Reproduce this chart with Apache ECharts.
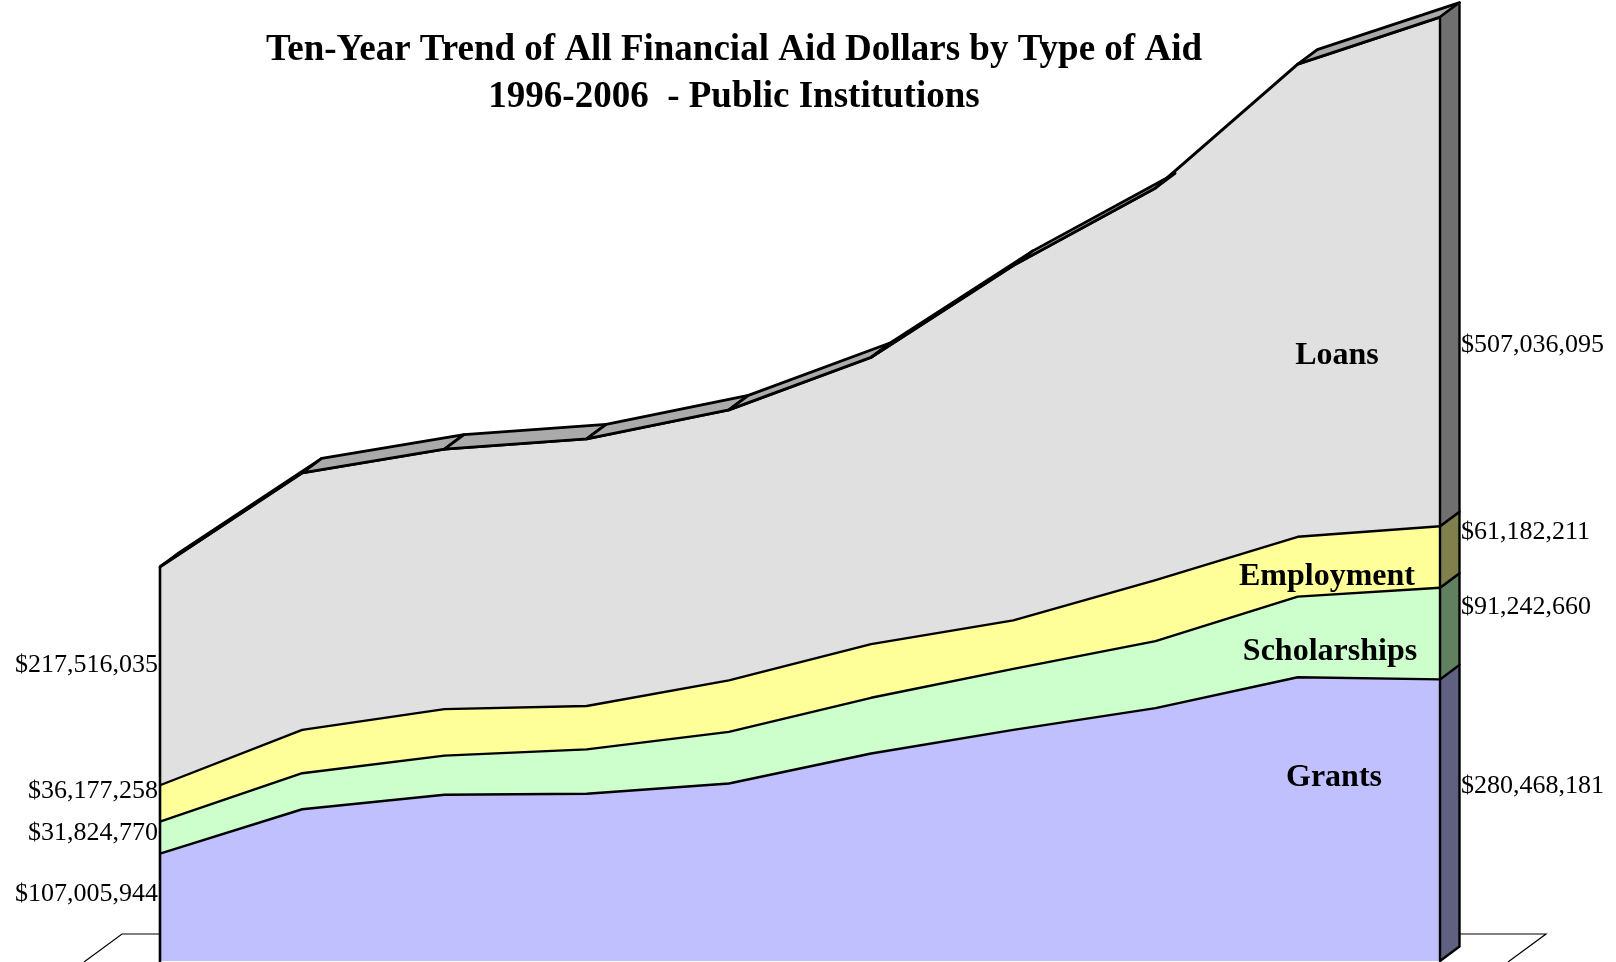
<!DOCTYPE html>
<html>
<head>
<meta charset="utf-8">
<script src="https://cdn.jsdelivr.net/npm/echarts@6/dist/echarts.min.js"></script>
<style>
html,body{margin:0;padding:0;background:#fff;}
#chart{width:1616px;height:962px;}
</style>
</head>
<body>
<div id="chart"></div>
<script>
// ---- data ----
const years = ['1996-97','1997-98','1998-99','1999-00','2000-01','2001-02','2002-03','2003-04','2004-05','2005-06'];
const grants       = [107005944, 151100000, 165500000, 166500000, 176800000, 206600000, 230200000, 251800000, 282600000, 280468181];
const scholarships = [31824770, 35900000, 39000000, 44200000, 51400000, 55500000, 60700000, 66800000, 80200000, 91242660];
const employment   = [36177258, 43200000, 46300000, 43200000, 51300000, 53400000, 48300000, 60600000, 59600000, 61182211];
const loans        = [217516035, 255900000, 259000000, 266100000, 269300000, 285700000, 353500000, 390600000, 470700000, 507036095];
const seriesNames  = ['Grants','Scholarships','Employment','Loans'];
const titleLines   = ['Ten-Year Trend of All Financial Aid Dollars by Type of Aid', '1996-2006  - Public Institutions'];

// ---- derived ----
const all = [grants, scholarships, employment, loans];
const cum = all.map((s, k) => s.map((v, i) => all.slice(0, k + 1).reduce((a, arr) => a + arr[i], 0)));
const totals = cum[3];
const last = years.length - 1;
const fmt = v => '$' + v.toLocaleString('en-US');

const fills = ['#C0C0FF', '#CCFFCC', '#FFFF99', '#E0E0E0'];
const sideFills = ['#606080', '#608060', '#80804C', '#707070'];
const D = [19.5, -14.5];

const chart = echarts.init(document.getElementById('chart'), null, {renderer: 'canvas'});

// filled areas (stacked)
const areaSeries = all.map((arr, k) => ({
  name: seriesNames[k], type: 'line', stack: 'area', data: arr,
  symbol: 'none', clip: false, z: 2,
  lineStyle: {width: 0, opacity: 0},
  areaStyle: {color: fills[k], opacity: 1}
}));
// boundary lines drawn above all fills
const edgeSeries = all.map((arr, k) => ({
  name: seriesNames[k] + ' edge', type: 'line', stack: 'edge', data: arr,
  symbol: 'none', clip: false, z: 3,
  lineStyle: {color: '#000', width: k === 3 ? 3 : 2.4, join: 'round'}
}));

const stripData = [];
for (let i = 0; i < last; i++) stripData.push([i, totals[i], totals[i + 1]]);

const sideData = all.map((arr, k) => [last, k === 0 ? 0 : cum[k - 1][last], cum[k][last], k]);

const option = {
  animation: false,
  backgroundColor: '#fff',
  grid: {left: 160, right: 176, top: 7, bottom: 1},
  xAxis: {type: 'category', data: years, boundaryGap: false, show: false},
  yAxis: {type: 'value', min: 0, max: 950000000, show: false},
  series: [
    ...areaSeries,
    ...edgeSeries,
    {
      type: 'custom', name: 'leftEdge', z: 4, clip: false,
      data: [[0, totals[0]]],
      encode: {x: 0, y: 1},
      renderItem: (params, api) => {
        const a = api.coord([0, 0]), b = api.coord([0, api.value(1)]);
        return {type: 'line', shape: {x1: a[0], y1: a[1] + 5, x2: b[0], y2: b[1]}, style: {stroke: '#000', lineWidth: 2.6}};
      }
    },
    {
      type: 'custom', name: 'topStrips', z: 5, clip: false,
      data: stripData,
      encode: {x: 0, y: [1, 2]},
      renderItem: (params, api) => {
        const i = api.value(0);
        const a = api.coord([i, api.value(1)]);
        const b = api.coord([i + 1, api.value(2)]);
        const cross = (b[0] - a[0]) * D[1] - (b[1] - a[1]) * D[0];
        if (cross >= 0) return {type: 'group', children: []};
        return {
          type: 'polygon',
          shape: {points: [a, b, [b[0] + D[0], b[1] + D[1]], [a[0] + D[0], a[1] + D[1]]]},
          style: {fill: '#AAAAAA', stroke: '#000', lineWidth: 2.8, lineJoin: 'round'}
        };
      }
    },
    {
      type: 'custom', name: 'sideFaces', z: 5, clip: false,
      data: sideData,
      encode: {x: 0, y: [1, 2]},
      renderItem: (params, api) => {
        const k = api.value(3);
        const f0 = api.coord([api.value(0), api.value(1)]);
        const f1 = api.coord([api.value(0), api.value(2)]);
        return {
          type: 'polygon',
          shape: {points: [f0, f1, [f1[0] + D[0], f1[1] + D[1]], [f0[0] + D[0], f0[1] + D[1]]]},
          style: {fill: sideFills[k], stroke: '#000', lineWidth: 2.4, lineJoin: 'round'}
        };
      }
    }
  ],
  graphic: [
    // floor
    {type: 'polyline', shape: {points: [[84, 962], [122, 934], [159, 934]]}, style: {stroke: '#000', lineWidth: 1.2, fill: null}, z: 0},
    {type: 'polyline', shape: {points: [[1460, 934], [1546, 934], [1508, 962]]}, style: {stroke: '#000', lineWidth: 1.2, fill: null}, z: 0},
    // title
    {type: 'text', z: 10, style: {
      text: titleLines[0], x: 734, y: 50, align: 'center', verticalAlign: 'middle',
      font: 'bold 37px "Liberation Serif"', fill: '#000'}},
    {type: 'text', z: 10, style: {
      text: titleLines[1], x: 734, y: 97, align: 'center', verticalAlign: 'middle',
      font: 'bold 37px "Liberation Serif"', fill: '#000'}},
    // left value labels
    ...[[3, 665], [2, 791], [1, 833], [0, 894]].map(([k, y]) => ({
      type: 'text', z: 10, style: {text: fmt(all[k][0]), x: 158, y: y, align: 'right', verticalAlign: 'middle',
      font: '26px "Liberation Serif"', fill: '#000'}})),
    // right value labels
    ...[[3, 345], [2, 532], [1, 607], [0, 786]].map(([k, y]) => ({
      type: 'text', z: 10, style: {text: fmt(all[k][last]), x: 1461, y: y, align: 'left', verticalAlign: 'middle',
      font: '26px "Liberation Serif"', fill: '#000'}})),
    // series name labels
    ...[[3, 1337, 356], [2, 1327, 577], [1, 1330, 652], [0, 1334, 778]].map(([k, x, y]) => ({
      type: 'text', z: 10, style: {text: seriesNames[k], x: x, y: y, align: 'center', verticalAlign: 'middle',
      font: 'bold 32px "Liberation Serif"', fill: '#000'}}))
  ]
};
chart.setOption(option);
</script>
</body>
</html>
